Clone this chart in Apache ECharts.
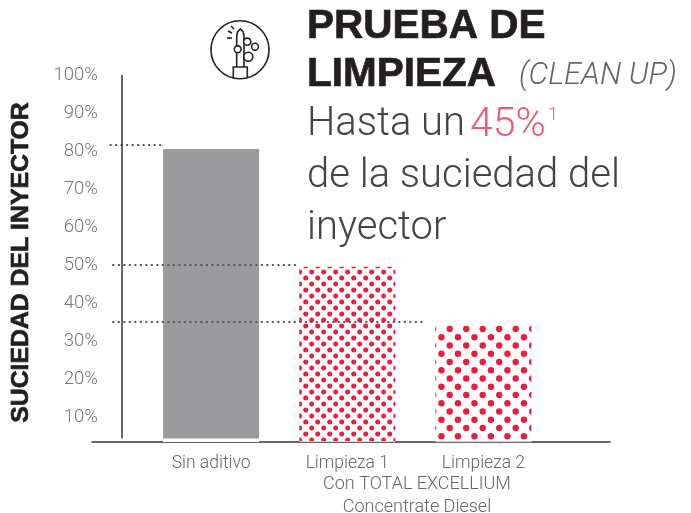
<!DOCTYPE html>
<html>
<head>
<meta charset="utf-8">
<style>
  html, body { margin: 0; background: #fff; }
  #main { width: 691px; height: 513px; }
</style>
<script src="https://cdn.jsdelivr.net/npm/echarts@6/dist/echarts.min.js"></script>
</head>
<body>
<div id="main"></div>
<script>
const categories = ['Sin aditivo', 'Limpieza 1', 'Limpieza 2'];
const barTops = [80.5, 49.5, 34.2];
const barBases = [4.3, 3.6, 3.6];
const yTicks = [10, 20, 30, 40, 50, 60, 70, 80, 90, 100];
const guideLevels = [81.7, 50, 35];

const LIGHT = 'Roboto, "Liberation Sans", sans-serif';
const BOLD = '"Liberation Sans", Arial, sans-serif';
const INK = '#231f20';

// staggered dot tile, rows shifted by half a step
function dotTile(size, rows, r, px, py) {
    const c = document.createElement('canvas');
    c.width = size;
    c.height = size;
    const ctx = c.getContext('2d');
    ctx.fillStyle = '#ec1c3c';
    const stepY = size / rows;
    const stepX = size / (rows / 2);
    for (let j = -rows - 2; j <= rows + 2; j++) {
        for (let i = -rows; i <= rows; i++) {
            const x = px + i * stepX + (Math.abs(j) % 2 ? stepX / 2 : 0);
            const y = py + j * stepY;
            ctx.beginPath();
            ctx.arc(x, y, r, 0, Math.PI * 2);
            ctx.fill();
        }
    }
    return c;
}

const barStyles = [
    { color: '#9b9b9e' },
    { color: { image: dotTile(12, 2, 2.5, 5.7, 2), repeat: 'repeat' } },
    { color: { image: dotTile(33, 4, 3.2, 449.7 % 33, 329 % 33), repeat: 'repeat' } }
];

function txt(x, y, text, font, fill, extra) {
    return { type: 'text', x, y, silent: true, style: { text, font, fill, ...(extra || {}) } };
}
const heavy = { stroke: INK, lineWidth: 0.7 };
const iconStroke = { stroke: '#222', lineWidth: 1.6, fill: 'none' };
function ring(cx, cy, r) {
    return { type: 'circle', shape: { cx, cy, r }, style: { ...iconStroke, fill: '#fff' } };
}
function poly(points) {
    return { type: 'polyline', shape: { points }, style: iconStroke };
}

const chart = echarts.init(document.getElementById('main'));
chart.setOption({
    animation: false,
    grid: { left: 92, right: 81, top: 75, bottom: 71 },
    xAxis: {
        type: 'value',
        min: -0.875,
        max: 2.93,
        splitLine: { show: false },
        axisTick: { show: false },
        axisLine: { show: true, lineStyle: { color: '#333', width: 1.5 } },
        axisLabel: {
            customValues: [0, 1, 2],
            formatter: v => categories[v],
            margin: 13,
            color: '#666',
            fontFamily: LIGHT,
            fontWeight: 300,
            fontSize: 17.5
        }
    },
    yAxis: {
        type: 'value',
        min: 3.4,
        max: 100,
        offset: -30,
        name: 'SUCIEDAD DEL INYECTOR',
        nameLocation: 'middle',
        nameGap: 88,
        nameTextStyle: {
            color: INK,
            fontFamily: BOLD,
            fontWeight: 'bold',
            fontSize: 24.8,
            textBorderColor: INK,
            textBorderWidth: 0.7,
            padding: [0, 8, 0, 0]
        },
        splitLine: { show: false },
        axisTick: { show: false },
        axisLine: { show: false, onZero: false },
        axisLabel: {
            customValues: yTicks,
            formatter: '{value}%',
            margin: 24,
            padding: [2, 0, 0, 0],
            color: '#777',
            fontFamily: LIGHT,
            fontWeight: 300,
            fontSize: 18.5
        }
    },
    series: [
        {
            type: 'bar',
            barWidth: 96,
            barGap: '-100%',
            silent: true,
            data: barTops.map((v, i) => ({ value: [i, v], itemStyle: barStyles[i] }))
        },
        {
            // white foot, bars stop just short of the baseline
            type: 'bar',
            barWidth: 96,
            barGap: '-100%',
            silent: true,
            itemStyle: { color: '#fff' },
            data: barBases.map((v, i) => [i, v]),
            markLine: {
                silent: true,
                symbol: 'none',
                label: { show: false },
                lineStyle: { color: '#555', type: [0.5, 5], width: 2, cap: 'round' },
                data: [
                    [{ coord: [-0.74, guideLevels[0]] }, { coord: [-0.37, guideLevels[0]] }],
                    [{ coord: [-0.72, guideLevels[1]] }, { coord: [0.62, guideLevels[1]] }],
                    [{ coord: [-0.72, guideLevels[2]] }, { coord: [1.58, guideLevels[2]] }],
                    // vertical axis stops above the baseline, so it is a segment here
                    [
                        { coord: [-0.658, barBases[0]], lineStyle: { color: '#333', type: 'solid', width: 1.5, cap: 'butt' } },
                        { coord: [-0.658, 100] }
                    ]
                ]
            }
        }
    ],
    graphic: [
        txt(307, 6, 'PRUEBA DE', 'bold 40.5px ' + BOLD, INK, heavy),
        txt(307, 54, 'LIMPIEZA', 'bold 40.5px ' + BOLD, INK, heavy),
        txt(519, 61, '(CLEAN UP)', 'italic 300 31px ' + LIGHT, '#666'),
        txt(307, 105, 'Hasta un', '300 40px ' + LIGHT, '#444'),
        txt(470, 105, '45%', '300 41px ' + LIGHT, '#ee5a70'),
        txt(548, 106, '1', '300 18px ' + LIGHT, '#ee5a70'),
        txt(307, 157, 'de la suciedad del', '300 40px ' + LIGHT, '#444'),
        txt(307, 209, 'inyector', '300 40px ' + LIGHT, '#444'),
        txt(417, 475, 'Con TOTAL EXCELLIUM', '300 18px ' + LIGHT, '#666', { align: 'center' }),
        txt(417, 498, 'Concentrate Diesel', '300 18px ' + LIGHT, '#666', { align: 'center' }),
        {
            type: 'group',
            silent: true,
            children: [
                { type: 'circle', shape: { cx: 240, cy: 49.7, r: 29 }, style: iconStroke },
                poly([[236.7, 67], [236.7, 36], [237.5, 32], [240.3, 29], [243.2, 32], [244, 36], [244, 67]]),
                poly([[233.3, 78], [233.3, 67], [247.3, 67], [247.3, 78]]),
                ring(247.3, 41.7, 3.6),
                ring(255, 46.7, 3.4),
                ring(237.7, 49.3, 3.4),
                ring(248.3, 56.7, 4.5),
                { type: 'line', shape: { x1: 231, y1: 26, x2: 234, y2: 29 }, style: iconStroke },
                { type: 'line', shape: { x1: 228, y1: 31, x2: 232, y2: 33 }, style: iconStroke },
                { type: 'line', shape: { x1: 227, y1: 38, x2: 232, y2: 38 }, style: iconStroke }
            ]
        }
    ]
});
</script>
</body>
</html>
